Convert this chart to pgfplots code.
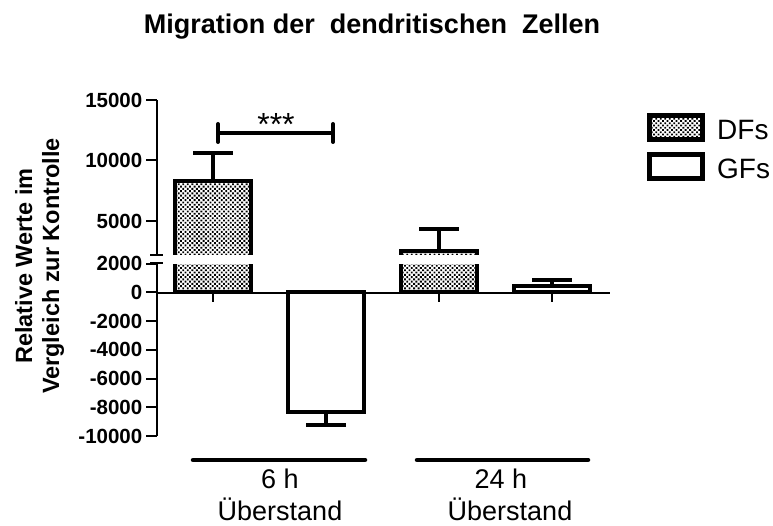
\documentclass[border=0pt]{standalone}
\usepackage{fontspec}
\setmainfont{Liberation Sans}
\usepackage{pgfplots}
\pgfplotsset{compat=1.18}
\usepackage{pgfplotstable}
\usetikzlibrary{patterns.meta}

\pgfplotstableread{
x y ep em
0 8300 2300 0
2 2500 1800 0
}\dfdata
\pgfplotstableread{
x y ep em
1 -8360 0 840
3 420 480 0
}\gfdata

\tikzset{dfpat/.style={pattern={Dots[distance=3.2pt, radius=1.3pt, angle=45]}, pattern color=black}}

\pgfplotsset{
 brk/.style={
  scale only axis, width=452pt, xmin=-0.5, xmax=3.5,
  axis x line=none, axis y line=left,
  axis line style={-, line width=2pt},
  every tick/.style={line width=2pt, black},
  tick align=outside, major tick length=10pt,
  xtick=\empty, scaled y ticks=false,
  yticklabel style={font=\fontsize{20.5}{24}\selectfont\bfseries, inner sep=0pt, xshift=-4pt},
 },
 barbase/.style={ybar, bar width=76pt, bar shift=0pt, draw=black, line width=4pt,
   error bars/y dir=both, error bars/y explicit,
   error bars/error bar style={line width=4pt, solid},
   error bars/error mark options={line width=4pt, mark size=20pt, solid, rotate=90}},
}

\begin{document}
\begin{tikzpicture}
\useasboundingbox (0,0) rectangle (773pt,526pt);

% lower segment
\begin{axis}[brk, at={(156.5pt,90pt)}, anchor=south west, height=172.2pt,
  ymin=-10000, ymax=2000,
  ytick={-10000,-8000,-6000,-4000,-2000,0,2000},
  yticklabels={-10000,-8000,-6000,-4000,-2000,0,2000}]
\addplot[barbase, dfpat] table[x=x, y=y, y error plus=ep, y error minus=em] {\dfdata};
\addplot[barbase, fill=white] table[x=x, y=y, y error plus=ep, y error minus=em] {\gfdata};
\end{axis}

% upper segment
\begin{axis}[brk, at={(156.5pt,268.7pt)}, anchor=south west, height=157.3pt,
  ymin=2000, ymax=15000,
  ytick={5000,10000,15000},
  yticklabels={5000,10000,15000}]
\addplot[barbase, dfpat] table[x=x, y=y, y error plus=ep, y error minus=em] {\dfdata};
\end{axis}

\begin{scope}[x=1pt, y=1pt]
% axis break: white band through the plot, then break marks
\fill[white] (152,262.2) rectangle (615,270.7);
\draw[line width=2pt] (150,270.5) -- (163,270.5);
\draw[line width=2pt] (150,262.5) -- (163,262.5);
% x axis line and ticks
\draw[line width=2pt] (156.5,233) -- (610,233);
\foreach \xx in {213,439,552} \draw[line width=2pt] (\xx,233) -- (\xx,224);
% significance bracket
\draw[line width=4pt] (218,393) -- (333,393);
\draw[line width=4pt, line cap=round] (218,402) -- (218,384);
\draw[line width=4pt, line cap=round] (333,402) -- (333,384);
\node[anchor=base, inner sep=0pt, font=\fontsize{32}{36}\selectfont] at (276,390) {***};
% group lines and labels
\draw[line width=4.5pt, line cap=round] (193,66) -- (365,66);
\draw[line width=4.5pt, line cap=round] (417,66) -- (588,66);
\node[anchor=base, inner sep=0pt, font=\fontsize{27}{30}\selectfont] at (280,37) {6 h};
\node[anchor=base, inner sep=0pt, font=\fontsize{27}{30}\selectfont] at (280,5) {Überstand};
\node[anchor=base, inner sep=0pt, font=\fontsize{27}{30}\selectfont] at (501,37) {24 h};
\node[anchor=base, inner sep=0pt, font=\fontsize{27}{30}\selectfont] at (510,5) {Überstand};
% legend
\draw[line width=5pt, dfpat] (649.5,410.5) rectangle (702.5,386.5);
\draw[line width=5pt, fill=white] (649.5,371.5) rectangle (702.5,347.5);
\node[anchor=base west, inner sep=0pt, font=\fontsize{28}{32}\selectfont] at (717,386) {DFs};
\node[anchor=base west, inner sep=0pt, font=\fontsize{28}{32}\selectfont] at (717,347) {GFs};
% title
\node[anchor=base, inner sep=0pt, font=\fontsize{27}{32}\selectfont\bfseries] at (372,492) {Migration der\ \ dendritischen\ \ Zellen};
% y label
\node[rotate=90, align=center, inner sep=0pt, font=\fontsize{23.5}{27}\selectfont\bfseries] at (39.5,260) {Relative Werte im\\Vergleich zur Kontrolle};
\end{scope}
\end{tikzpicture}
\end{document}
